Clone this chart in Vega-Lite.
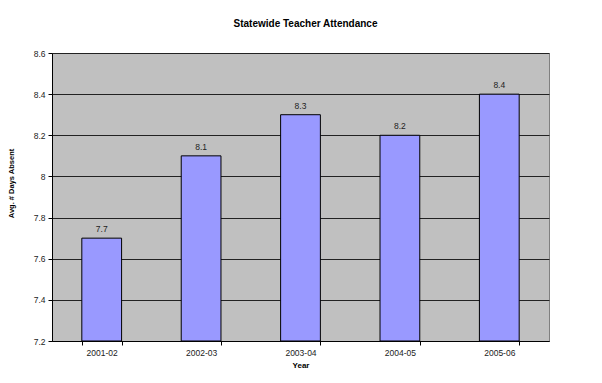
{
  "$schema": "https://vega.github.io/schema/vega-lite/v6.json",
  "autosize": {"type": "none"},
  "width": 497,
  "height": 288,
  "padding": {"left": 52, "top": 53, "right": 53, "bottom": 42},
  "background": "white",
  "title": {
    "text": "Statewide Teacher Attendance",
    "font": "Liberation Sans",
    "fontSize": 10,
    "fontWeight": "bold",
    "color": "#000000",
    "anchor": "middle",
    "dx": 5,
    "offset": 20
  },
  "data": {
    "values": [
      {"Year": "2001-02", "Days": 7.7},
      {"Year": "2002-03", "Days": 8.1},
      {"Year": "2003-04", "Days": 8.3},
      {"Year": "2004-05", "Days": 8.2},
      {"Year": "2005-06", "Days": 8.4}
    ]
  },
  "encoding": {
    "x": {
      "field": "Year",
      "type": "nominal",
      "sort": null,
      "title": "Year",
      "scale": {"paddingInner": 0.6, "paddingOuter": 0.3},
      "axis": {
        "labelAngle": 0,
        "tickBand": "extent",
        "tickSize": 4,
        "tickColor": "#000000",
        "domainColor": "#000000",
        "labelFont": "Liberation Sans",
        "labelFontSize": 8.5,
        "labelColor": "#222222",
        "labelPadding": 3,
        "titleFont": "Liberation Sans",
        "titleFontSize": 8,
        "titleFontWeight": "bold",
        "titleColor": "#000000",
        "titlePadding": 5
      }
    },
    "y": {
      "field": "Days",
      "type": "quantitative",
      "title": "Avg. # Days Absent",
      "scale": {"domain": [7.2, 8.6], "zero": false, "nice": false},
      "axis": {
        "values": [7.2, 7.4, 7.6, 7.8, 8.0, 8.2, 8.4, 8.6],
        "format": "~g",
        "grid": true,
        "gridColor": "#222222",
        "gridWidth": 1,
        "tickSize": 4,
        "tickColor": "#000000",
        "domainColor": "#000000",
        "labelFont": "Liberation Sans",
        "labelFontSize": 8.5,
        "labelColor": "#222222",
        "labelPadding": 3,
        "titleFont": "Liberation Sans",
        "titleFontSize": 7.5,
        "titleFontWeight": "bold",
        "titleColor": "#000000",
        "titleX": -37,
        "titleY": 130
      }
    }
  },
  "layer": [
    {
      "mark": {"type": "bar", "fill": "#9999FF", "stroke": "#000000", "strokeWidth": 1},
      "encoding": {"y2": {"datum": 7.2}}
    },
    {
      "mark": {
        "type": "text",
        "dy": -9,
        "font": "Liberation Sans",
        "fontSize": 8.5,
        "color": "#222222"
      },
      "encoding": {"text": {"field": "Days", "type": "quantitative", "format": ".1f"}}
    }
  ],
  "config": {
    "view": {"fill": "#C0C0C0", "stroke": "#808080", "strokeWidth": 1}
  }
}
